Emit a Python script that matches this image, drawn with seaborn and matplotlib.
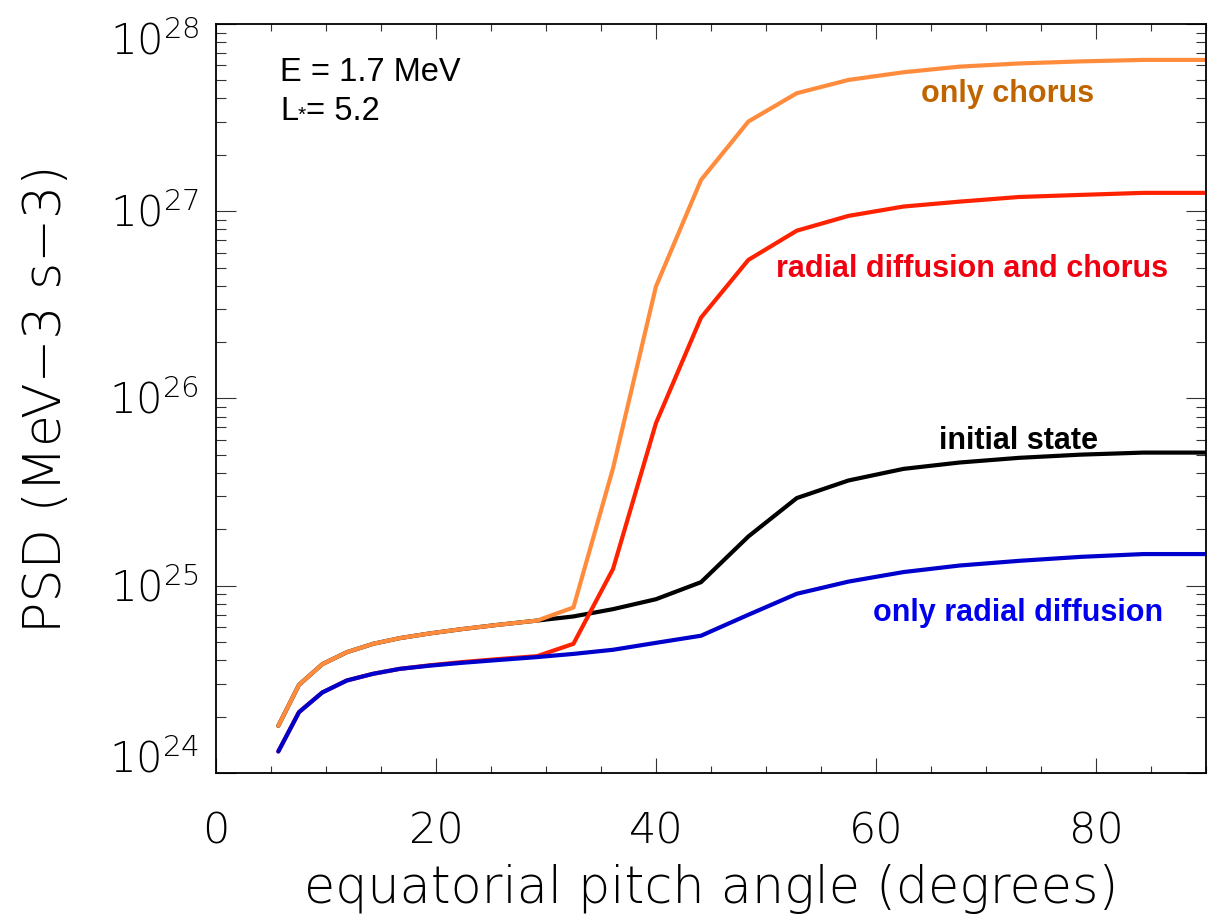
import numpy as np
import pandas as pd
import matplotlib
matplotlib.use("Agg")
import matplotlib.pyplot as plt
import seaborn as sns
from matplotlib.transforms import ScaledTranslation
from matplotlib.ticker import LogLocator, MultipleLocator, NullFormatter

# ---------------- data ----------------
pitch_angle = [5.67, 7.55, 9.67, 11.9, 14.3, 16.7, 19.4, 22.3, 25.6, 29.2,
               32.5, 36.1, 40.0, 44.1, 48.4, 52.8, 57.5, 62.5, 67.6, 73.0,
               78.6, 84.3, 90.0]

psd_only_chorus = [1.786e24, 2.958e24, 3.811e24, 4.416e24, 4.898e24, 5.248e24,
                   5.559e24, 5.861e24, 6.180e24, 6.516e24, 7.656e24, 4.246e25,
                   3.963e26, 1.469e27, 3.013e27, 4.266e27, 5.023e27, 5.521e27,
                   5.916e27, 6.152e27, 6.310e27, 6.427e27, 6.427e27]

psd_initial = [1.786e24, 2.958e24, 3.811e24, 4.416e24, 4.898e24, 5.248e24,
               5.559e24, 5.861e24, 6.180e24, 6.516e24, 6.855e24, 7.499e24,
               8.472e24, 1.045e25, 1.832e25, 2.938e25, 3.648e25, 4.207e25,
               4.550e25, 4.819e25, 5.012e25, 5.140e25, 5.140e25]

psd_radial_chorus = [1.303e24, 2.113e24, 2.692e24, 3.119e24, 3.388e24, 3.597e24,
                     3.758e24, 3.908e24, 4.055e24, 4.207e24, 4.898e24, 1.230e25,
                     7.379e25, 2.704e26, 5.495e26, 7.870e26, 9.441e26, 1.059e27,
                     1.125e27, 1.191e27, 1.222e27, 1.253e27, 1.253e27]

psd_only_radial = [1.303e24, 2.113e24, 2.692e24, 3.119e24, 3.388e24, 3.597e24,
                   3.741e24, 3.873e24, 4.009e24, 4.159e24, 4.325e24, 4.550e24,
                   4.955e24, 5.408e24, 6.998e24, 9.057e24, 1.052e25, 1.183e25,
                   1.282e25, 1.358e25, 1.426e25, 1.476e25, 1.476e25]

series_names = ["initial state", "radial diffusion and chorus",
                "only radial diffusion", "only chorus"]
x_ticks = [0, 20, 40, 60, 80]
y_ticks = [1e24, 1e25, 1e26, 1e27, 1e28]
y_tick_labels = [r"$\mathregular{10^{24}}$", r"$\mathregular{10^{25}}$",
                 r"$\mathregular{10^{26}}$", r"$\mathregular{10^{27}}$",
                 r"$\mathregular{10^{28}}$"]

# ---------------- style ----------------
sns.set_style("white")
plt.rcParams["font.family"] = ["Liberation Sans", "DejaVu Sans"]
plt.rcParams["text.color"] = "black"
plt.rcParams["axes.labelcolor"] = "black"
plt.rcParams["xtick.color"] = "black"
plt.rcParams["ytick.color"] = "black"

line_colors = {"initial state": "#000000",
               "radial diffusion and chorus": "#FF2200",
               "only radial diffusion": "#0000CC",
               "only chorus": "#FF8C3C"}
text_colors = {"initial state": "#000000",
               "radial diffusion and chorus": "#F00010",
               "only radial diffusion": "#0000EE",
               "only chorus": "#C06400"}

THIN = dict(family=["DejaVu Sans"], weight=200, color="black")

rows = []
for name, vals in zip(series_names,
                      [psd_initial, psd_radial_chorus, psd_only_radial, psd_only_chorus]):
    for a, v in zip(pitch_angle, vals):
        rows.append({"angle": a, "psd": v, "series": name})
df = pd.DataFrame(rows)

fig = plt.figure(figsize=(12.2, 9.21), dpi=100)
ax = fig.add_axes([0.177, 0.1607, 0.8115, 0.8133])

sns.lineplot(data=df, x="angle", y="psd", hue="series", hue_order=series_names,
             palette=line_colors, linewidth=3, sort=False, estimator=None,
             legend=False, ax=ax)

ax.set_yscale("log")
ax.set_xlim(0, 90)
ax.set_ylim(1e24, 1e28)

for sp in ax.spines.values():
    sp.set_linewidth(1.3)
    sp.set_color("black")

ax.set_xticks(x_ticks)
ax.set_xticklabels([str(t) for t in x_ticks], fontsize=31, **THIN)
ax.xaxis.set_minor_locator(MultipleLocator(5))
ax.set_yticks(y_ticks)
ax.set_yticklabels(y_tick_labels, fontsize=30, **THIN)
ax.yaxis.set_minor_locator(LogLocator(base=10, subs=np.arange(2, 10)))
ax.yaxis.set_minor_formatter(NullFormatter())

ax.tick_params(axis="x", which="major", direction="in", length=10.8, width=0.8,
               color="#333333", top=True, bottom=True, pad=27)
ax.tick_params(axis="x", which="minor", direction="in", length=5, width=0.8,
               color="#333333", top=True, bottom=True)
ax.tick_params(axis="y", which="major", direction="in", length=14.4, width=0.8,
               color="#333333", left=True, right=True, pad=12)
ax.tick_params(axis="y", which="minor", direction="in", length=7.2, width=0.8,
               color="#333333", left=True, right=True)

ax.set_xlabel("equatorial pitch angle (degrees)", fontsize=36.5, labelpad=9, **THIN)
ax.set_ylabel("PSD (MeV\u22123 s\u22123)", fontsize=37.5, labelpad=27, **THIN)

# position y tick labels like the reference (digits centred on tick, ends kept inside)
shifts_px = [0, -15.5, -15.5, -15.5, -31]
for lab, s in zip(ax.get_yticklabels(), shifts_px):
    lab.set_verticalalignment("baseline")
    lab.set_transform(lab.get_transform() +
                      ScaledTranslation(0, s * 0.72 / 72, fig.dpi_scale_trans))

# annotations
ax.text(0.0646, 0.935, "E = 1.7 MeV", transform=ax.transAxes, fontsize=23.5,
        ha="left", va="center", color="black")
t_l = ax.text(0.0646, 0.883, "L", transform=ax.transAxes, fontsize=23.5,
              ha="left", va="center", color="black")
t_star = ax.annotate("*", xy=(1.0, 0.38), xycoords=t_l, fontsize=15,
                     ha="left", va="center", color="black")
ax.annotate("= 5.2", xy=(1.0, 0.0), xycoords=(t_star, t_l), fontsize=23.5,
            ha="left", va="bottom", color="black")

label_pos = {"only chorus": (0.8, 0.906),
             "radial diffusion and chorus": (0.7636, 0.6735),
             "initial state": (0.8111, 0.4436),
             "only radial diffusion": (0.8101, 0.2139)}
for name in series_names:
    x, y = label_pos[name]
    ax.text(x, y, name, transform=ax.transAxes, fontsize=22, fontweight="bold",
            color=text_colors[name], ha="center", va="center")

fig.savefig("out.png", dpi=100)
